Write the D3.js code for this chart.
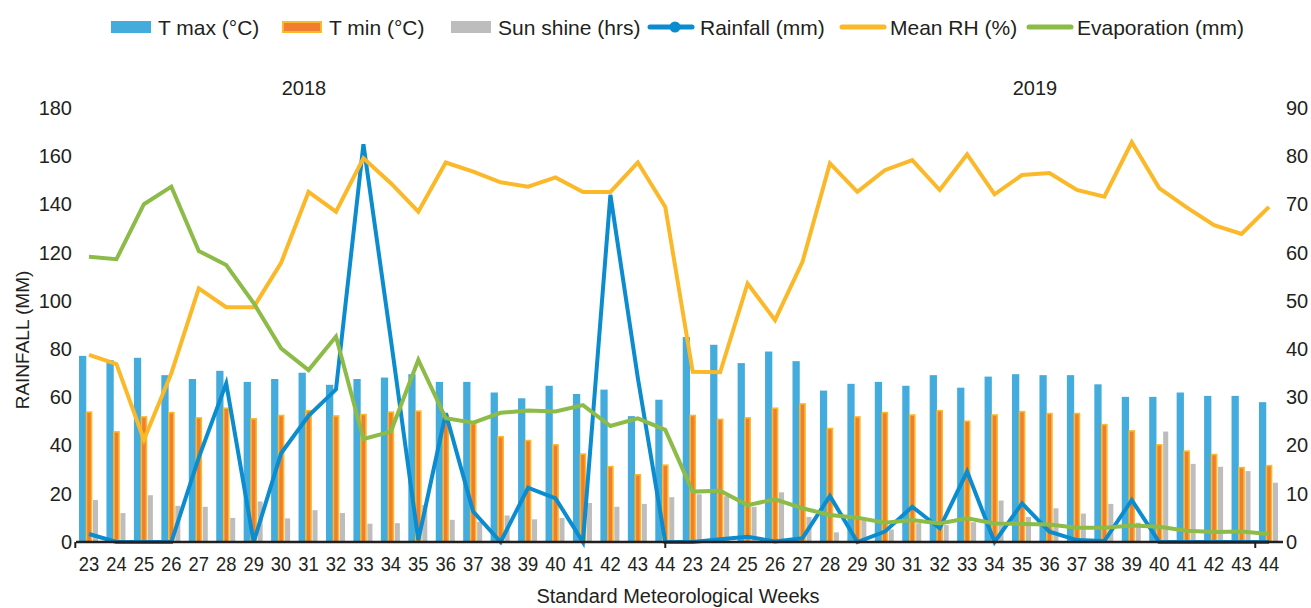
<!DOCTYPE html>
<html>
<head>
<meta charset="utf-8">
<script src="https://cdn.jsdelivr.net/npm/d3@7"></script>
<style>
  body { margin: 0; background: #fff; }
  text { font-family: "Liberation Sans", Arial, Helvetica, sans-serif; fill: #231f20; }
</style>
</head>
<body>
<svg width="1311" height="608"></svg>
<script>
// standard meteorological weeks, 2018 then 2019
const weeks = [23,24,25,26,27,28,29,30,31,32,33,34,35,36,37,38,39,40,41,42,43,44,
               23,24,25,26,27,28,29,30,31,32,33,34,35,36,37,38,39,40,41,42,43,44];
const years = ["2018", "2019"];

// right axis
const tMax = [38.6,37.7,38.2,34.6,33.8,35.5,33.2,33.8,35.1,32.6,33.8,34.1,34.8,33.2,33.2,31.0,29.8,32.4,30.7,31.6,26.1,29.5,
              42.5,40.9,37.1,39.5,37.5,31.4,32.8,33.2,32.4,34.6,32.0,34.3,34.8,34.6,34.6,32.7,30.1,30.1,31.0,30.3,30.3,29.0];
const tMin = [27.1,23.0,26.1,27.0,25.9,27.9,25.7,26.4,27.4,26.3,26.6,27.1,27.3,26.5,24.7,22.0,21.2,20.3,18.4,15.8,14.1,16.1,
              26.4,25.6,25.9,27.9,28.8,23.7,26.1,27.0,26.5,27.4,25.2,26.5,27.2,26.8,26.8,24.5,23.2,20.3,19.0,18.3,15.6,16.0];
const sunShine = [8.7,6.0,9.7,7.5,7.3,5.0,8.4,4.9,6.6,6.0,3.8,3.9,7.7,4.6,4.2,5.5,4.7,5.0,8.1,7.3,7.9,9.3,
                  9.9,9.5,7.3,10.3,5.2,2.0,4.6,2.6,3.9,3.5,4.1,8.6,5.2,7.0,5.9,7.9,4.0,22.9,16.2,15.6,14.7,12.3];
const meanRH = [38.8,36.9,21.2,35.0,52.6,48.7,48.7,57.9,72.6,68.5,79.6,74.4,68.5,78.7,76.8,74.6,73.7,75.6,72.6,72.6,78.7,69.5,
                35.3,35.2,53.6,46.0,58.1,78.5,72.6,77.1,79.2,73.0,80.4,72.1,76.1,76.5,73.0,71.6,82.9,73.4,69.4,65.7,63.9,69.5];
// left axis
const rainfall = [3.3,0,0,0,35,65.8,0,36.8,52.3,63.3,165,84,0.8,53.4,12.6,0,22.5,18.1,0,144,68,0,
                  0,1.1,2.2,0.2,1.6,19.1,0,4.3,14.6,5.7,29.2,0,16.0,4.3,0.8,0.4,17.4,0,0,0,0,0];
const evaporation = [118.3,117.3,140.1,147.4,120.7,114.9,99.1,80.3,71.3,85.2,42.7,45.8,75.5,51.3,49.5,53.6,54.5,54.1,56.8,48.1,51.3,46.5,
                     20.9,21.3,15.3,17.7,14.0,11.2,10.1,8.0,9.1,7.7,9.8,7.7,7.5,7.3,5.9,5.9,6.8,6.3,4.7,4.1,4.4,3.3];

const leftTicks = [0,20,40,60,80,100,120,140,160,180];
const rightTicks = [0,10,20,30,40,50,60,70,80,90];

const colors = {
  tmax: "#44acdd", tmin: "#ef7e30", tminEdge: "#fbb829", sun: "#bdbdbd",
  rain: "#0b8ccf", rh: "#fbb829", evap: "#8cbb47", ink: "#231f20"
};

const svg = d3.select("svg");
const n = weeks.length;
const idx = d3.range(n);

const x = d3.scaleBand().domain(idx).range([75.3, 1282.7]).padding(0);
const cx = i => x(i) + x.bandwidth() / 2;
const yL = d3.scaleLinear().domain([0, 180]).range([542, 108]);
const yR = d3.scaleLinear().domain([0, 90]).range([542, 108]);
const sub = d3.scaleBand().domain(["tmax", "tmin", "sun"]).range([-10, 10]);

// bars
const bars = svg.append("g");
bars.selectAll(".tmax").data(idx).enter().append("rect")
  .attr("x", i => cx(i) + sub("tmax"))
  .attr("y", i => yR(tMax[i]))
  .attr("width", sub.bandwidth() + 0.6)
  .attr("height", i => yR(0) - yR(tMax[i]))
  .attr("fill", colors.tmax);
bars.selectAll(".tmin").data(idx).enter().append("rect")
  .attr("x", i => cx(i) + sub("tmin") + 0.8)
  .attr("y", i => yR(tMin[i]) + 0.8)
  .attr("width", sub.bandwidth() - 1.6)
  .attr("height", i => yR(0) - yR(tMin[i]) - 0.8)
  .attr("fill", colors.tmin)
  .attr("stroke", colors.tminEdge)
  .attr("stroke-width", 1.6);
bars.selectAll(".sun").data(idx).enter().append("rect")
  .attr("x", i => cx(i) + sub("sun") + 0.6)
  .attr("y", i => yR(sunShine[i]))
  .attr("width", sub.bandwidth() - 1.6)
  .attr("height", i => yR(0) - yR(sunShine[i]))
  .attr("fill", colors.sun);

// lines
function drawLine(values, scale, color) {
  svg.append("path")
    .datum(idx)
    .attr("fill", "none")
    .attr("stroke", color)
    .attr("stroke-width", 4)
    .attr("stroke-linejoin", "miter")
    .attr("d", d3.line().x(cx).y(i => scale(values[i])));
}
drawLine(rainfall, yL, colors.rain);
drawLine(meanRH, yR, colors.rh);
drawLine(evaporation, yL, colors.evap);

// axes
const gl = svg.append("g").attr("transform", "translate(76,0)")
  .call(d3.axisLeft(yL).tickValues(leftTicks).tickSize(0).tickPadding(4));
const gr = svg.append("g").attr("transform", "translate(1282,0)")
  .call(d3.axisRight(yR).tickValues(rightTicks).tickSize(0).tickPadding(4));
const gx = svg.append("g").attr("transform", "translate(0,542)")
  .call(d3.axisBottom(x).tickSize(0).tickPadding(15).tickFormat(i => weeks[i]));
[gl, gr, gx].forEach(g => {
  g.select(".domain").remove();
  g.selectAll("text").style("font-size", "20px").attr("fill", colors.ink)
    .style("font-family", "'Liberation Sans', Arial, sans-serif");
});
gx.selectAll("text").attr("transform", "scale(0.92,1)");

svg.append("line")
  .attr("x1", 76).attr("x2", 1283).attr("y1", 542).attr("y2", 542)
  .attr("stroke", colors.ink).attr("stroke-width", 2.5);
svg.selectAll(".grouptick").data([x(0), cx(21), x(43)]).enter().append("line")
  .attr("x1", d => d).attr("x2", d => d).attr("y1", 542).attr("y2", 548)
  .attr("stroke", colors.ink).attr("stroke-width", 2);

// year labels
svg.selectAll(".year").data(years).enter().append("text")
  .attr("x", (d, k) => k === 0 ? 304 : 1035)
  .attr("y", 95)
  .attr("text-anchor", "middle")
  .style("font-size", "20px")
  .text(d => d);

// axis titles
svg.append("text")
  .attr("transform", "translate(29,340) rotate(-90)")
  .attr("text-anchor", "middle")
  .style("font-size", "19px")
  .text("RAINFALL (MM)");
svg.append("text")
  .attr("x", 678).attr("y", 603)
  .attr("text-anchor", "middle")
  .style("font-size", "20px")
  .text("Standard Meteorological Weeks");

// legend
const legend = [
  {label: "T max (°C)", kind: "bar", color: colors.tmax, x: 111},
  {label: "T min (°C)", kind: "barEdge", color: colors.tmin, x: 282},
  {label: "Sun shine (hrs)", kind: "bar", color: colors.sun, x: 451},
  {label: "Rainfall (mm)", kind: "marker", color: colors.rain, x: 650},
  {label: "Mean RH (%)", kind: "line", color: colors.rh, x: 842},
  {label: "Evaporation (mm)", kind: "line", color: colors.evap, x: 1029}
];
const lg = svg.append("g").selectAll("g").data(legend).enter().append("g")
  .attr("transform", d => `translate(${d.x},27)`);
lg.filter(d => d.kind === "bar").append("rect")
  .attr("x", 0).attr("y", -6).attr("width", 40).attr("height", 12).attr("fill", d => d.color);
lg.filter(d => d.kind === "barEdge").append("rect")
  .attr("x", 1).attr("y", -5).attr("width", 38).attr("height", 10)
  .attr("fill", d => d.color).attr("stroke", colors.tminEdge).attr("stroke-width", 2);
lg.filter(d => d.kind === "line" || d.kind === "marker").append("line")
  .attr("x1", 0).attr("x2", 42).attr("y1", 0).attr("y2", 0)
  .attr("stroke", d => d.color).attr("stroke-width", 5).attr("stroke-linecap", "round");
lg.filter(d => d.kind === "marker").append("circle")
  .attr("cx", 25).attr("cy", 0).attr("r", 5.5).attr("fill", d => d.color);
lg.append("text")
  .attr("x", d => d.kind === "marker" ? 50 : (d.kind === "line" ? 48 : 47))
  .attr("y", 7.5)
  .style("font-size", "21px")
  .text(d => d.label);
</script>
</body>
</html>
